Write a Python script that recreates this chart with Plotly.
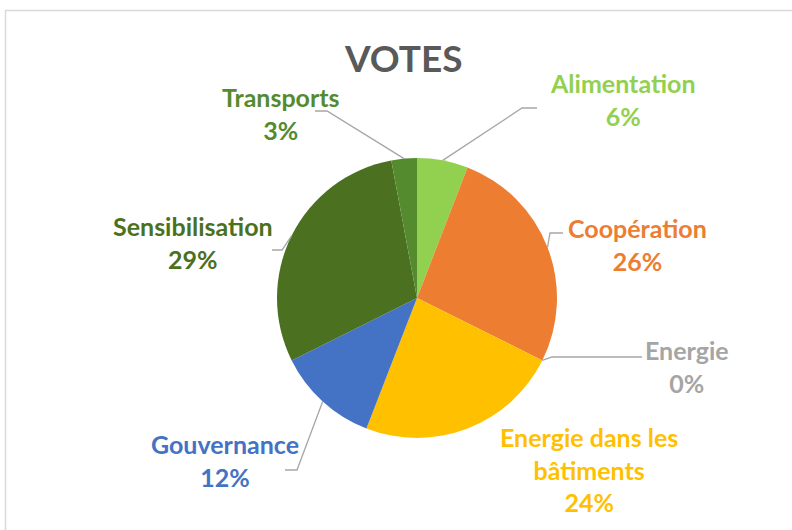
import math
import plotly.graph_objects as go

# ---- data ----
categories = ["Alimentation", "Coopération", "Energie", "Energie dans les bâtiments",
              "Gouvernance", "Sensibilisation", "Transports"]
votes = [2, 9, 0, 8, 4, 10, 1]
label_text = ["Alimentation", "Coopération", "Energie", "Energie dans les<br>bâtiments",
              "Gouvernance", "Sensibilisation", "Transports"]
title_text = "VOTES"

# ---- styles ----
slice_colors = ["#92D050", "#ED7D31", "#A5A5A5", "#FFC000", "#4472C4", "#4B7120", "#558B2F"]
label_colors = ["#92D050", "#ED7D31", "#A5A5A5", "#FFC000", "#4472C4", "#4B7120", "#558B2F"]

W, H = 792, 530
CX, CY, R = 417, 298, 140          # pie centre / radius in pixels
FONT = "Lato"
LABEL_SIZE = 25
TITLE_SIZE = 37

# label block centres (px) and leader-line elbow/end points (px); None = no leader
label_pos = [(622, 100), (637, 244), (687, 366), (589, 469), (225, 460), (193, 242), (281, 114)]
leaders = [
    [(522, 108), (537, 108)],
    [(550, 233), (563, 233)],
    [(552, 357), (642, 357)],
    None,
    [(297, 470), (285, 470)],
    [(282, 250), (272, 250)],
    [(327, 111), (315, 111)],
]


def px(x):
    return x / W


def py(y):
    return 1 - y / H


fig = go.Figure()
fig.add_trace(go.Pie(
    labels=categories, values=votes, sort=False, direction="clockwise", rotation=0,
    marker=dict(colors=slice_colors, line=dict(width=0)),
    textinfo="none", hoverinfo="label+percent", showlegend=False,
    domain=dict(x=[px(CX - R), px(CX + R)], y=[py(CY + R), py(CY - R)]),
))

total = sum(votes)
annotations = []
shapes = []
cum = 0
for i, (cat, v) in enumerate(zip(categories, votes)):
    mid = (cum + v / 2) / total * 2 * math.pi
    cum += v
    pct = round(v / total * 100)
    lx, ly = label_pos[i]
    annotations.append(dict(
        x=px(lx), y=py(ly), xref="paper", yref="paper",
        text=f"<b>{label_text[i]}<br>{pct}%</b>", showarrow=False,
        xanchor="center", yanchor="middle", align="center",
        font=dict(family=FONT, size=LABEL_SIZE, color=label_colors[i]),
    ))
    if leaders[i]:
        ex, ey = CX + R * math.sin(mid), CY - R * math.cos(mid)
        pts = [(ex, ey)] + leaders[i]
        path = "M " + " L ".join(f"{px(a)},{py(b)}" for a, b in pts)
        shapes.append(dict(type="path", path=path, xref="paper", yref="paper",
                           line=dict(color="#A6A6A6", width=1.3)))

annotations.append(dict(
    x=px(404), y=py(58), xref="paper", yref="paper", text=f"<b>{title_text}</b>",
    showarrow=False, xanchor="center", yanchor="middle",
    font=dict(family=FONT, size=TITLE_SIZE, color="#595959"),
))

# chart-area border
shapes.append(dict(type="rect", xref="paper", yref="paper",
                   x0=px(5.5), y0=py(545), x1=px(805), y1=py(10.5),
                   line=dict(color="#D9D9D9", width=1.5), layer="below"))

fig.update_layout(
    width=W, height=H, margin=dict(l=0, r=0, t=0, b=0),
    paper_bgcolor="white", plot_bgcolor="white",
    annotations=annotations, shapes=shapes,
)

fig.write_html("out.html", config={"displayModeBar": False},
               post_script="document.body.style.margin='0px';document.body.style.overflow='hidden';")
